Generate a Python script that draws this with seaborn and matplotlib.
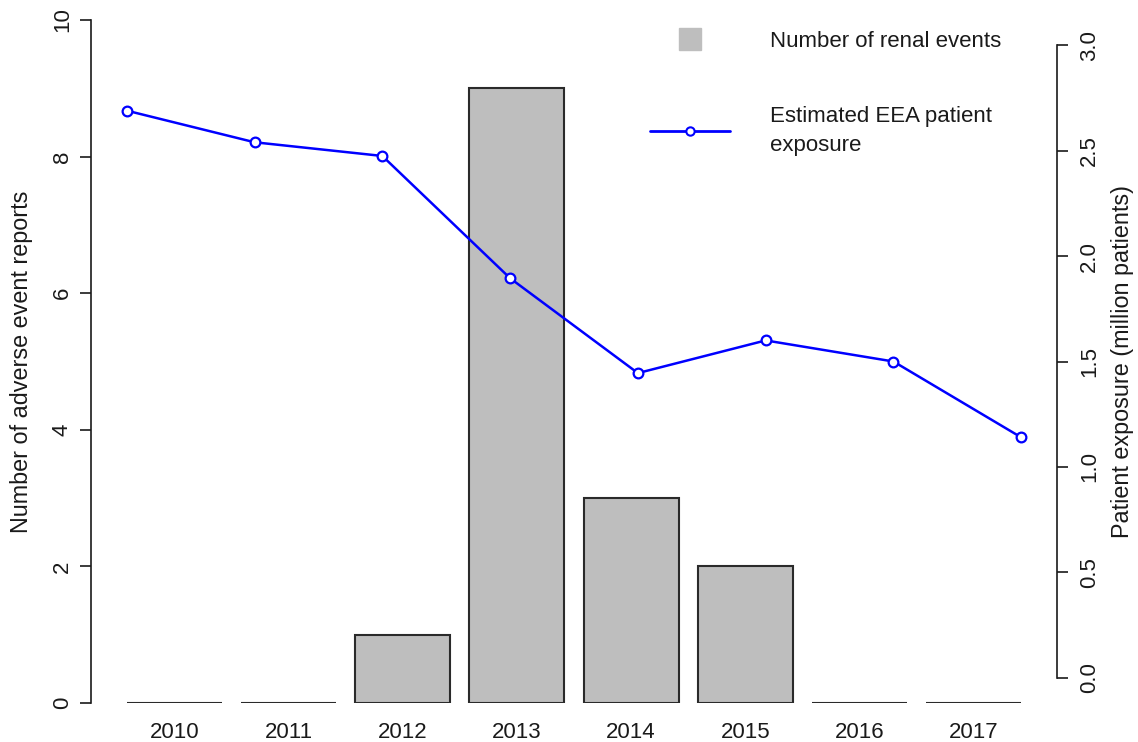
import numpy as np
import pandas as pd
import matplotlib
matplotlib.use("Agg")
import matplotlib.pyplot as plt
from matplotlib.lines import Line2D
import seaborn as sns

years = ["2010", "2011", "2012", "2013", "2014", "2015", "2016", "2017"]
renal_events = [0, 0, 1, 9, 3, 2, 0, 0]
exposure_million = [2.69, 2.54, 2.475, 1.895, 1.445, 1.60, 1.50, 1.14]
left_ticks = [0, 2, 4, 6, 8, 10]
right_ticks = [0.0, 0.5, 1.0, 1.5, 2.0, 2.5, 3.0]

sns.set_style("ticks")
plt.rcParams["font.family"] = ["Liberation Sans", "DejaVu Sans"]
plt.rcParams["font.size"] = 16
plt.rcParams["text.color"] = "#1a1a1a"
plt.rcParams["axes.labelcolor"] = "#1a1a1a"
plt.rcParams["xtick.color"] = "#1a1a1a"
plt.rcParams["ytick.color"] = "#1a1a1a"

W, H = 1138, 742
AX_L, AX_R, AX_T, AX_B = 91, 1057, 20, 703
fig = plt.figure(figsize=(W / 100, H / 100), dpi=100)
rect = [AX_L / W, 1 - AX_B / H, (AX_R - AX_L) / W, (AX_B - AX_T) / H]
ax = fig.add_axes(rect)

df = pd.DataFrame({"year": years, "events": renal_events})
sns.barplot(data=df, x="year", y="events", color="#BEBEBE", saturation=1,
            edgecolor="#2a2a2a", linewidth=1.5, width=1 / 1.2, ax=ax)
ax.set_xlim(-0.73, 7.73)
ax.set_ylim(0, 10)
ax.set_yticks(left_ticks)
ax.set_yticklabels([str(t) for t in left_ticks], rotation=90, va="center")
ax.set_xlabel("")
ax.set_ylabel("Number of adverse event reports", fontsize=16.8, va="center")
ax.yaxis.set_label_coords((22 - AX_L) / (AX_R - AX_L), 0.5)
ax.tick_params(axis="x", length=0, pad=14, labelsize=16)
ax.tick_params(axis="y", length=8, width=1.2, pad=5, labelsize=16)
for s in ["top", "right", "bottom"]:
    ax.spines[s].set_visible(False)
ax.spines["left"].set_linewidth(1.2)
ax.spines["left"].set_color("#1a1a1a")

ax2 = fig.add_axes(rect, label="exposure")
ax2.patch.set_visible(False)
line_df = pd.DataFrame({"pos": np.arange(1, len(years) + 1), "exp": exposure_million})
sns.lineplot(data=line_df, x="pos", y="exp", ax=ax2, color="#0000FF", linewidth=1.8,
             marker="o", markersize=7, markerfacecolor="white",
             markeredgecolor="#0000FF", markeredgewidth=1.6, zorder=5)
ax2.set_xlim(0.72, 8.28)
ax2.set_ylim(-0.12, 3.12)
ax2.xaxis.set_visible(False)
ax2.yaxis.tick_right()
ax2.yaxis.set_label_position("right")
ax2.set_yticks(right_ticks)
ax2.set_yticklabels([f"{t:.1f}" for t in right_ticks], rotation=90, va="center")
ax2.set_ylabel("Patient exposure (million patients)", fontsize=16.8, va="center")
ax2.yaxis.set_label_coords((1123 - AX_L) / (AX_R - AX_L), 0.5)
ax2.tick_params(axis="y", length=8, width=1.2, pad=8, labelsize=16)
for s in ["top", "left", "bottom"]:
    ax2.spines[s].set_visible(False)
ax2.spines["right"].set_bounds(0, 3)
ax2.spines["right"].set_linewidth(1.2)
ax2.spines["right"].set_color("#1a1a1a")

handles = [
    Line2D([], [], marker="s", color="#BEBEBE", linestyle="none", markersize=16),
    Line2D([], [], color="#0000FF", marker="o", markerfacecolor="white",
           markeredgecolor="#0000FF", markersize=6, markeredgewidth=1.5, linewidth=2),
]
labels = ["Number of renal events", "Estimated EEA patient\nexposure"]
leg = fig.legend(handles, labels, loc="upper left", bbox_to_anchor=(650 / W, 1 - 31 / H),
                 frameon=False, borderpad=0, borderaxespad=0, handlelength=3.6,
                 handletextpad=1.8, labelspacing=2.45, fontsize=16)
for t in leg.get_texts():
    t.set_linespacing(1.45)

fig.savefig("out.png", dpi=100)
